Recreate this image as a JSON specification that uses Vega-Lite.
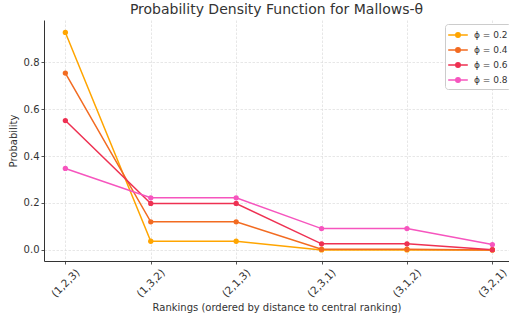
{
  "$schema": "https://vega.github.io/schema/vega-lite/v6.json",
  "autosize": "none",
  "padding": {"left": 44, "top": 20, "right": 0, "bottom": 55},
  "width": 465,
  "height": 241,
  "background": "white",
  "config": {
    "font": "DejaVu Sans",
    "view": {"stroke": null},
    "axis": {
      "domainColor": "#333333",
      "domainWidth": 1,
      "tickColor": "#555555",
      "tickSize": 3,
      "labelColor": "#333333",
      "labelFontSize": 10,
      "titleColor": "#333333",
      "titleFontSize": 10,
      "titleFontWeight": "normal",
      "gridColor": "#dddddd",
      "gridDash": [2.5, 1.5],
      "gridWidth": 0.7
    }
  },
  "title": {
    "text": "Probability Density Function for Mallows-θ",
    "fontSize": 14,
    "fontWeight": "normal",
    "color": "#333333",
    "anchor": "middle",
    "offset": 3
  },
  "data": {
    "values": [
      {"ranking": "(1,2,3)", "phi": "ϕ = 0.2", "p": 0.926},
      {"ranking": "(1,3,2)", "phi": "ϕ = 0.2", "p": 0.037},
      {"ranking": "(2,1,3)", "phi": "ϕ = 0.2", "p": 0.037},
      {"ranking": "(2,3,1)", "phi": "ϕ = 0.2", "p": 0.0001},
      {"ranking": "(3,1,2)", "phi": "ϕ = 0.2", "p": 0.0001},
      {"ranking": "(3,2,1)", "phi": "ϕ = 0.2", "p": 0.0},
      {"ranking": "(1,2,3)", "phi": "ϕ = 0.4", "p": 0.753},
      {"ranking": "(1,3,2)", "phi": "ϕ = 0.4", "p": 0.120},
      {"ranking": "(2,1,3)", "phi": "ϕ = 0.4", "p": 0.120},
      {"ranking": "(2,3,1)", "phi": "ϕ = 0.4", "p": 0.003},
      {"ranking": "(3,1,2)", "phi": "ϕ = 0.4", "p": 0.003},
      {"ranking": "(3,2,1)", "phi": "ϕ = 0.4", "p": 0.0},
      {"ranking": "(1,2,3)", "phi": "ϕ = 0.6", "p": 0.551},
      {"ranking": "(1,3,2)", "phi": "ϕ = 0.6", "p": 0.198},
      {"ranking": "(2,1,3)", "phi": "ϕ = 0.6", "p": 0.198},
      {"ranking": "(2,3,1)", "phi": "ϕ = 0.6", "p": 0.026},
      {"ranking": "(3,1,2)", "phi": "ϕ = 0.6", "p": 0.026},
      {"ranking": "(3,2,1)", "phi": "ϕ = 0.6", "p": 0.001},
      {"ranking": "(1,2,3)", "phi": "ϕ = 0.8", "p": 0.347},
      {"ranking": "(1,3,2)", "phi": "ϕ = 0.8", "p": 0.222},
      {"ranking": "(2,1,3)", "phi": "ϕ = 0.8", "p": 0.222},
      {"ranking": "(2,3,1)", "phi": "ϕ = 0.8", "p": 0.091},
      {"ranking": "(3,1,2)", "phi": "ϕ = 0.8", "p": 0.091},
      {"ranking": "(3,2,1)", "phi": "ϕ = 0.8", "p": 0.023}
    ]
  },
  "encoding": {
    "x": {
      "field": "ranking",
      "type": "ordinal",
      "sort": null,
      "scale": {"type": "point", "padding": 0.2225, "align": 0.562},
      "axis": {
        "title": "Rankings (ordered by distance to central ranking)",
        "labelAngle": -45,
        "labelAlign": "center",
        "labelBaseline": "middle",
        "labelFontSize": 10.5,
        "labelPadding": 19,
        "titlePadding": 3,
        "grid": true
      }
    },
    "y": {
      "field": "p",
      "type": "quantitative",
      "scale": {"domain": [-0.047, 0.979], "nice": false, "zero": false},
      "axis": {
        "title": "Probability",
        "values": [0, 0.2, 0.4, 0.6, 0.8],
        "format": ".1f",
        "titlePadding": 5,
        "grid": true
      }
    },
    "color": {
      "field": "phi",
      "type": "nominal",
      "scale": {
        "domain": ["ϕ = 0.2", "ϕ = 0.4", "ϕ = 0.6", "ϕ = 0.8"],
        "range": ["#FFA500", "#F26B21", "#EE3152", "#F655BE"]
      },
      "legend": {
        "title": null,
        "orient": "none",
        "legendX": 401,
        "legendY": 4,
        "fillColor": "white",
        "strokeColor": "#cccccc",
        "cornerRadius": 3,
        "padding": 3,
        "rowPadding": 1,
        "symbolOffset": 2,
        "labelOffset": 8,
        "labelFontSize": 9,
        "labelColor": "#333333",
        "symbolType": "M -1.4 0 L 1.4 0 M -0.32 0 A 0.32 0.32 0 1 0 0.32 0 A 0.32 0.32 0 1 0 -0.32 0",
        "symbolSize": 196,
        "symbolStrokeWidth": 1.5,
        "encode": {
          "symbols": {
            "update": {
              "fill": {"scale": "color", "field": "value"},
              "stroke": {"scale": "color", "field": "value"},
              "fillOpacity": {"value": 1}
            }
          }
        }
      }
    }
  },
  "layer": [
    {"mark": {"type": "line", "strokeWidth": 1.5}},
    {"mark": {"type": "circle", "size": 28, "opacity": 1}}
  ]
}
